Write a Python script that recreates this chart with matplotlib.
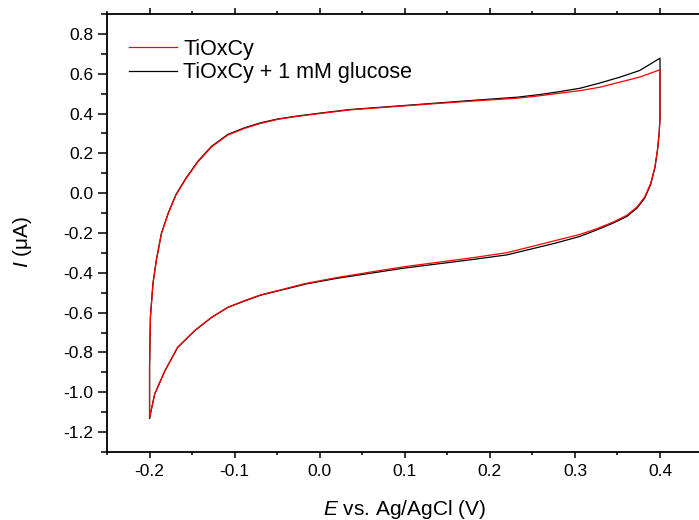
import matplotlib
matplotlib.use("Agg")
import matplotlib.pyplot as plt
from matplotlib.ticker import MultipleLocator, FuncFormatter

plt.rcParams['font.family'] = ['Liberation Sans', 'DejaVu Sans']
plt.rcParams['mathtext.fontset'] = 'custom'
plt.rcParams['mathtext.rm'] = 'Liberation Sans'
plt.rcParams['mathtext.it'] = 'Liberation Sans:italic'
plt.rcParams['axes.unicode_minus'] = False

# forward scan (-0.2 -> 0.4 V)
E_fwd = [-0.2, -0.2, -0.199, -0.196, -0.192, -0.186, -0.178, -0.169, -0.157,
         -0.143, -0.127, -0.108, -0.088, -0.069, -0.049, -0.029, 0.0, 0.035,
         0.114, 0.17, 0.232, 0.258, 0.282, 0.306, 0.329, 0.353, 0.376, 0.4]
I_fwd_red = [-1.127, -0.875, -0.623, -0.455, -0.338, -0.203, -0.102, -0.010,
             0.074, 0.158, 0.233, 0.292, 0.326, 0.351, 0.371, 0.384, 0.40,
             0.418, 0.443, 0.46, 0.477, 0.489, 0.502, 0.515, 0.532, 0.558,
             0.583, 0.62]
I_fwd_blk = [-1.13, -0.875, -0.622, -0.453, -0.335, -0.200, -0.099, -0.007,
             0.077, 0.161, 0.236, 0.295, 0.329, 0.354, 0.373, 0.386, 0.402,
             0.42, 0.445, 0.463, 0.482, 0.495, 0.51, 0.527, 0.553, 0.583,
             0.616, 0.678]

# reverse scan (0.4 -> -0.2 V)
E_rev = [0.4, 0.399, 0.397, 0.394, 0.389, 0.382, 0.373, 0.361, 0.345, 0.326,
         0.306, 0.278, 0.25, 0.22, 0.18, 0.141, 0.1, 0.063, 0.02, -0.016,
         -0.029, -0.049, -0.069, -0.088, -0.108, -0.127, -0.147, -0.167,
         -0.182, -0.194, -0.2]
I_rev_red = [0.384, 0.301, 0.217, 0.132, 0.049, -0.019, -0.069, -0.111, -0.145,
             -0.178, -0.207, -0.237, -0.267, -0.299, -0.324, -0.346, -0.369,
             -0.394, -0.424, -0.453, -0.467, -0.489, -0.510, -0.539, -0.573,
             -0.623, -0.690, -0.774, -0.892, -1.009, -1.127]
I_rev_blk = [0.384, 0.301, 0.215, 0.128, 0.043, -0.025, -0.075, -0.117, -0.150,
             -0.184, -0.217, -0.250, -0.279, -0.310, -0.333, -0.354, -0.376,
             -0.400, -0.428, -0.456, -0.470, -0.491, -0.512, -0.541, -0.574,
             -0.624, -0.691, -0.775, -0.893, -1.01, -1.13]

y_ticks = [-1.2, -1.0, -0.8, -0.6, -0.4, -0.2, 0.0, 0.2, 0.4, 0.6, 0.8]
x_ticks = [-0.2, -0.1, 0.0, 0.1, 0.2, 0.3, 0.4]

fig = plt.figure(figsize=(6.99, 5.2), dpi=100)
ax = fig.add_axes([0.1531, 0.1308, 0.852, 0.8423])

ax.plot(E_fwd + E_rev, I_fwd_blk + I_rev_blk, color="black", linewidth=0.9,
        label="TiOxCy + 1 mM glucose")
ax.plot(E_fwd + E_rev, I_fwd_red + I_rev_red, color="red", linewidth=0.9,
        label="TiOxCy")

ax.set_xlim(-0.25, 0.45)
ax.set_ylim(-1.3, 0.9)
ax.set_xticks(x_ticks)
ax.set_yticks(y_ticks)
ax.xaxis.set_minor_locator(MultipleLocator(0.05))
ax.yaxis.set_minor_locator(MultipleLocator(0.1))
fmt = FuncFormatter(lambda v, _: "%.1f" % (round(v, 1) or 0.0))
ax.xaxis.set_major_formatter(fmt)
ax.yaxis.set_major_formatter(fmt)

ax.tick_params(axis="y", which="major", direction="out", length=6.5,
               width=1.1, labelsize=12.5, pad=3.5, right=False)
ax.tick_params(axis="y", which="minor", direction="out", length=4,
               width=1.1, right=False)
ax.tick_params(axis="x", which="major", direction="out", length=4.5,
               width=1.1, labelsize=12.5, pad=4.5, top=True)
ax.tick_params(axis="x", which="minor", direction="out", length=2.5,
               width=1.1, top=True)
for s in ax.spines.values():
    s.set_linewidth(1.3)

ax.set_xlabel("$E$ vs. Ag/AgCl (V)", fontsize=15)
ax.set_ylabel("$I$ (μA)", fontsize=15)
ax.xaxis.set_label_coords(0.499, -0.104)
ax.yaxis.set_label_coords(-0.122, 0.48)

h, l = ax.get_legend_handles_labels()
ax.legend(h[::-1], l[::-1], loc="upper left",
          bbox_to_anchor=(129 / 699, 1 - 39 / 520),
          bbox_transform=fig.transFigure,
          frameon=False, fontsize=15.5, handlelength=2.23, handletextpad=0.28,
          labelspacing=0.1, borderpad=0, borderaxespad=0)

fig.savefig("out.png", dpi=100)
